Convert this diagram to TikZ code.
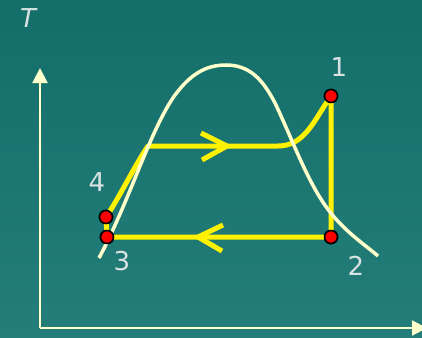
\documentclass[tikz,border=0pt]{standalone}
\usepackage{fontspec}
\setmainfont{DejaVu Sans}
\usetikzlibrary{arrows.meta}
\definecolor{bgtop}{HTML}{136E6A}
\definecolor{bgbot}{HTML}{247D79}
\definecolor{cream}{HTML}{FFFFCC}
\definecolor{labelc}{HTML}{D9E2E2}
\tikzset{
  axis/.style={draw=cream,line width=2pt,-{Triangle[length=15pt,width=15pt]}},
  dome/.style={draw=cream,line width=3.5pt},
  cycle/.style={draw=yellow,line width=5pt},
  chev/.style={draw=yellow,line width=5pt},
  statept/.style={circle,fill=red,draw=black,line width=1.6pt,minimum size=13pt,inner sep=0pt},
  lbl/.style={text=labelc,font=\fontsize{26}{26}\selectfont,inner sep=0pt}
}
\begin{document}
\begin{tikzpicture}[x=1pt,y=-1pt]
\useasboundingbox (0,0) rectangle (422,337);
\shade[top color=bgtop,bottom color=bgbot] (0,0) rectangle (422,337);
% axes
\coordinate (O) at (40,328);
\coordinate (Ytip) at (40,68);
\coordinate (Xtip) at (427,328);
\draw[axis] (O) -- (Ytip);
\draw[axis] (O) -- (Xtip);
\node[lbl,font=\fontsize{26}{26}\selectfont\itshape] (T) at (28,18) {T};
% state points
\node[statept] (p1) at (331,96) {};
\node[statept] (p2) at (331,237) {};
\node[statept] (p3) at (107,237) {};
\node[statept] (p4) at (106,217) {};
\coordinate (c4) at (148,146);
\coordinate (c1) at (278,146);
% cycle
\draw[cycle,line join=round] (p1.center) -- (p2.center) -- (p3.center) -- (p4.center)
  .. controls (118,200) and (135,165) .. (c4) -- (c1)
  .. controls (305,146) and (314,120) .. (p1.center);
% direction chevrons
\coordinate (a1) at (227,146);
\coordinate (a2) at (198,237);
\draw[chev] ([shift={(-26,-13)}]a1) -- (a1) -- ([shift={(-25,14)}]a1);
\draw[chev] ([shift={(25,-12)}]a2) -- (a2) -- ([shift={(24,14)}]a2);
% saturation dome
\draw[dome] (99,258) .. controls (130,200) and (150,130) .. (175,95)
  .. controls (190,75) and (205,65) .. (226,65)
  .. controls (250,65) and (263,80) .. (275,103)
  .. controls (295,145) and (310,190) .. (335,218)
  .. controls (350,235) and (365,245) .. (378,256);
% points on top
\node[statept] at (p1) {};
\node[statept] at (p2) {};
\node[statept] at (p3) {};
\node[statept] at (p4) {};
% labels
\node[lbl] (l1) at (339,67) {1};
\node[lbl] (l2) at (356,266) {2};
\node[lbl] (l3) at (122,261) {3};
\node[lbl] (l4) at (97,182) {4};
\end{tikzpicture}
\end{document}
